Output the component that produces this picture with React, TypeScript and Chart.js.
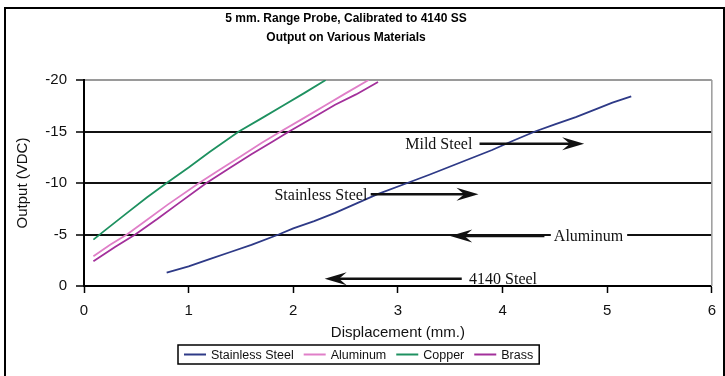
import React, { useEffect, useRef } from "react";
import { Chart, registerables } from "chart.js";
Chart.register(...registerables);

// ---------- data ----------
const xTickValues = [0, 1, 2, 3, 4, 5, 6];
const yTickValues = [-20, -15, -10, -5, 0];

const seriesNames = ["Stainless Steel", "Aluminum", "Copper", "Brass"];
const seriesColors = ["#2E3A87", "#E07FC8", "#1E9160", "#A3309B"];

const stainlessX = [0.79, 1.0, 1.2, 1.4, 1.6, 1.86, 2.0, 2.2, 2.4, 2.6, 2.8, 3.09, 3.3, 3.5, 3.7, 3.9, 4.1, 4.31, 4.5, 4.7, 4.9, 5.05, 5.23];
const stainlessY = [-1.3, -1.9, -2.6, -3.3, -4.0, -5.0, -5.6, -6.3, -7.1, -8.0, -8.9, -10.0, -10.8, -11.6, -12.4, -13.2, -14.1, -15.0, -15.7, -16.4, -17.2, -17.8, -18.4];

const aluminumX = [0.09, 0.25, 0.41, 0.6, 0.8, 1.1, 1.3, 1.5, 1.7, 1.88, 2.1, 2.3, 2.5, 2.72];
const aluminumY = [-2.9, -4.0, -5.0, -6.4, -7.9, -10.0, -11.3, -12.6, -13.9, -15.0, -16.3, -17.5, -18.7, -20.0];

const copperX = [0.09, 0.2, 0.4, 0.6, 0.79, 1.0, 1.2, 1.48, 1.7, 1.9, 2.1, 2.31];
const copperY = [-4.5, -5.4, -7.0, -8.6, -10.0, -11.5, -13.0, -15.0, -16.3, -17.5, -18.7, -20.0];

const brassX = [0.09, 0.3, 0.49, 0.7, 0.9, 1.17, 1.4, 1.6, 1.8, 1.96, 2.2, 2.4, 2.6, 2.81];
const brassY = [-2.4, -3.8, -5.0, -6.5, -8.0, -10.0, -11.5, -12.8, -14.0, -15.0, -16.4, -17.6, -18.6, -19.8];

const titleLines = ["5 mm. Range Probe, Calibrated to 4140 SS", "Output on Various Materials"];
const xAxisTitle = "Displacement (mm.)";
const yAxisTitle = "Output (VDC)";

// annotations (data coordinates)
const annoText = ["Mild Steel", "Stainless Steel", "Aluminum", "4140 Steel"];
const annoTextX = [3.07, 1.82, 4.49, 3.68];
const annoY = [-13.8, -8.9, -4.85, -0.7];
const arrowFromX = [3.78, 2.74, 4.4, 3.61];
const arrowToX = [4.78, 3.77, 3.5, 2.3];
const annoWhiteBg = [false, false, true, false];

const SANS = '"Liberation Sans", Arial, sans-serif';
const SERIF = '"Liberation Serif", "Times New Roman", serif';

function drawArrow(ctx: CanvasRenderingContext2D, x1: number, x2: number, y: number) {
  const dir = Math.sign(x2 - x1);
  const L = 22;
  const H = 6.5;
  ctx.strokeStyle = "#111";
  ctx.fillStyle = "#111";
  ctx.lineWidth = 2.5;
  ctx.beginPath();
  ctx.moveTo(x1, y);
  ctx.lineTo(x2 - dir * L * 0.6, y);
  ctx.stroke();
  ctx.beginPath();
  ctx.moveTo(x2, y);
  ctx.lineTo(x2 - dir * L, y - H);
  ctx.lineTo(x2 - dir * L * 0.65, y);
  ctx.lineTo(x2 - dir * L, y + H);
  ctx.closePath();
  ctx.fill();
}

const decorPlugin = {
  id: "decor",
  afterDraw(chart: any) {
    const { ctx, chartArea } = chart;
    const xs = chart.scales.x;
    const ys = chart.scales.y;
    ctx.save();
    // plot right border (gray)
    ctx.strokeStyle = "#9a9a9a";
    ctx.lineWidth = 1.5;
    ctx.beginPath();
    ctx.moveTo(chartArea.right, chartArea.top);
    ctx.lineTo(chartArea.right, chartArea.bottom);
    ctx.stroke();

    // outer frame
    ctx.strokeStyle = "#000";
    ctx.lineWidth = 2;
    ctx.strokeRect(5, 8, 719, 400);

    // title
    ctx.fillStyle = "#000";
    ctx.font = `bold 12px ${SANS}`;
    ctx.textAlign = "center";
    ctx.textBaseline = "middle";
    const tY = [19, 38];
    titleLines.forEach((t, i) => ctx.fillText(t, 346, tY[i]));

    // annotations
    ctx.font = `16px ${SERIF}`;
    ctx.textAlign = "left";
    annoText.forEach((t, i) => {
      const tx = xs.getPixelForValue(annoTextX[i]);
      const ty = ys.getPixelForValue(annoY[i]);
      const w = ctx.measureText(t).width;
      if (annoWhiteBg[i]) {
        ctx.fillStyle = "#fff";
        ctx.fillRect(tx - 3, ty - 8, w + 7, 16);
      }
      ctx.fillStyle = "#111";
      ctx.fillText(t, tx, ty + 1);
      drawArrow(ctx, xs.getPixelForValue(arrowFromX[i]), xs.getPixelForValue(arrowToX[i]), ty);
    });

    // legend
    ctx.font = `12.5px ${SANS}`;
    ctx.textBaseline = "middle";
    const swatch = 22, gapSw = 5, gapItem = 10, pad = 6;
    const widths = seriesNames.map((n) => ctx.measureText(n).width);
    const total = pad * 2 + widths.reduce((a, b) => a + b, 0) + seriesNames.length * (swatch + gapSw) + gapItem * (seriesNames.length - 1);
    const lx = 178;
    const ly = 345, lh = 19;
    ctx.strokeStyle = "#000";
    ctx.lineWidth = 1.5;
    ctx.strokeRect(lx, ly, total, lh);
    let cx = lx + pad;
    const cy = ly + lh / 2;
    seriesNames.forEach((n, i) => {
      ctx.strokeStyle = seriesColors[i];
      ctx.lineWidth = 2;
      ctx.beginPath();
      ctx.moveTo(cx, cy);
      ctx.lineTo(cx + swatch, cy);
      ctx.stroke();
      cx += swatch + gapSw;
      ctx.fillStyle = "#111";
      ctx.fillText(n, cx, cy + 1);
      cx += widths[i] + gapItem;
    });
    ctx.restore();
  },
};

export default function App() {
  const ref = useRef<HTMLCanvasElement | null>(null);
  useEffect(() => {
    if (!ref.current) return;
    const mk = (xa: number[], ya: number[]) => xa.map((x, i) => ({ x, y: ya[i] }));
    const dataArrays = [
      mk(stainlessX, stainlessY),
      mk(aluminumX, aluminumY),
      mk(copperX, copperY),
      mk(brassX, brassY),
    ];
    const chart = new Chart(ref.current, {
      type: "line",
      data: {
        datasets: seriesNames.map((name, i) => ({
          label: name,
          data: dataArrays[i],
          borderColor: seriesColors[i],
          backgroundColor: seriesColors[i],
          borderWidth: 1.8,
          pointRadius: 0,
          tension: 0,
          fill: false,
        })),
      },
      options: {
        animation: false,
        responsive: false,
        devicePixelRatio: 1,
        layout: { padding: { left: 10, top: 80, right: 8, bottom: 34 } },
        plugins: {
          legend: { display: false },
          title: { display: false },
          tooltip: { enabled: false },
        },
        scales: {
          x: {
            type: "linear",
            min: 0,
            max: 6,
            afterBuildTicks: (s: any) => {
              s.ticks = xTickValues.map((v) => ({ value: v }));
            },
            ticks: { color: "#111", font: { family: SANS, size: 15 }, padding: 9 },
            grid: { drawOnChartArea: false, tickLength: 7, tickColor: "#000", tickWidth: 1.5 },
            border: { color: "#000", width: 2 },
            title: {
              display: true,
              text: xAxisTitle,
              color: "#111",
              font: { family: SANS, size: 15 },
              padding: { top: 0, bottom: 0 },
            },
            afterFit: (s: any) => {
              s.height = 56;
            },
          },
          y: {
            type: "linear",
            min: -20,
            max: 0,
            reverse: true,
            afterBuildTicks: (s: any) => {
              s.ticks = yTickValues.map((v) => ({ value: v }));
            },
            ticks: { color: "#111", font: { family: SANS, size: 15 }, padding: 9 },
            grid: {
              color: (c: any) => (c.tick && c.tick.value === -20 ? "#9a9a9a" : "#111"),
              lineWidth: 2,
              tickLength: 8,
              tickColor: "#000",
              tickWidth: 1.5,
            },
            border: { color: "#000", width: 2 },
            title: {
              display: true,
              text: yAxisTitle,
              color: "#111",
              font: { family: SANS, size: 15 },
            },
            afterFit: (s: any) => {
              s.width = 74;
            },
          },
        },
      },
      plugins: [decorPlugin],
    });
    return () => chart.destroy();
  }, []);
  return (
    <div style={{ position: "fixed", left: 0, top: 0, width: 725, height: 376, background: "#fff" }}>
      <canvas ref={ref} width={725} height={376} style={{ display: "block" }} />
    </div>
  );
}
